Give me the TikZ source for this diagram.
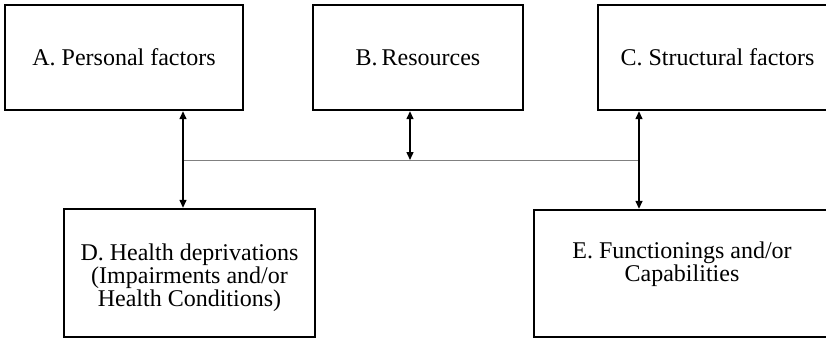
\documentclass[tikz,border=0pt]{standalone}
\usepackage{fontspec}
\setmainfont{Liberation Serif}
\usetikzlibrary{arrows.meta}

\begin{document}
\begin{tikzpicture}[x=0.5pt,y=-0.5pt,
    caja/.style={draw, line width=1.2pt, inner sep=0pt, align=center,
        font=\fontsize{12}{11.5}\selectfont},
    flecha/.style={{Triangle[length=4pt,width=3.5pt]}-{Triangle[length=4pt,width=3.5pt]}, line width=0.7pt}]
    \useasboundingbox (0,0) rectangle (826,339);

    % Cajas de arriba (la C sale del borde derecho)
    \foreach \nombre/\x/\ancho/\texto in {A/124/119pt/{A. Personal factors}, B/418/105pt/{B.\,Resources}, C/717.5/119.5pt/{C. Structural factors}} {
        \node[caja, minimum width=\ancho, minimum height=52.5pt] (\nombre) at (\x,57.5) {\texto};
    }

    % Cajas de abajo
    \node[caja, minimum width=125.5pt, minimum height=64pt] (D) at (189.5,273) {\rule{0pt}{13.5pt}D. Health deprivations\\(Impairments and/or\\Health Conditions)};
    \node[caja, minimum width=148pt, minimum height=63.5pt] (E) at (682,273.5) {E. Functionings and/or\\Capabilities\\ \mbox{}};

    % Flechas y linea de union
    \coordinate (xa) at (183,160);
    \coordinate (xb) at (410,160);
    \coordinate (xc) at (639,160);
    \draw[gray, line width=0.5pt] (xa) -- (xc);
    \draw[flecha] (xa |- A.south) -- (xa |- D.north);
    \draw[flecha] (xb |- B.south) -- (xb);
    \draw[flecha] (xc |- C.south) -- (xc |- E.north);
\end{tikzpicture}
\end{document}
